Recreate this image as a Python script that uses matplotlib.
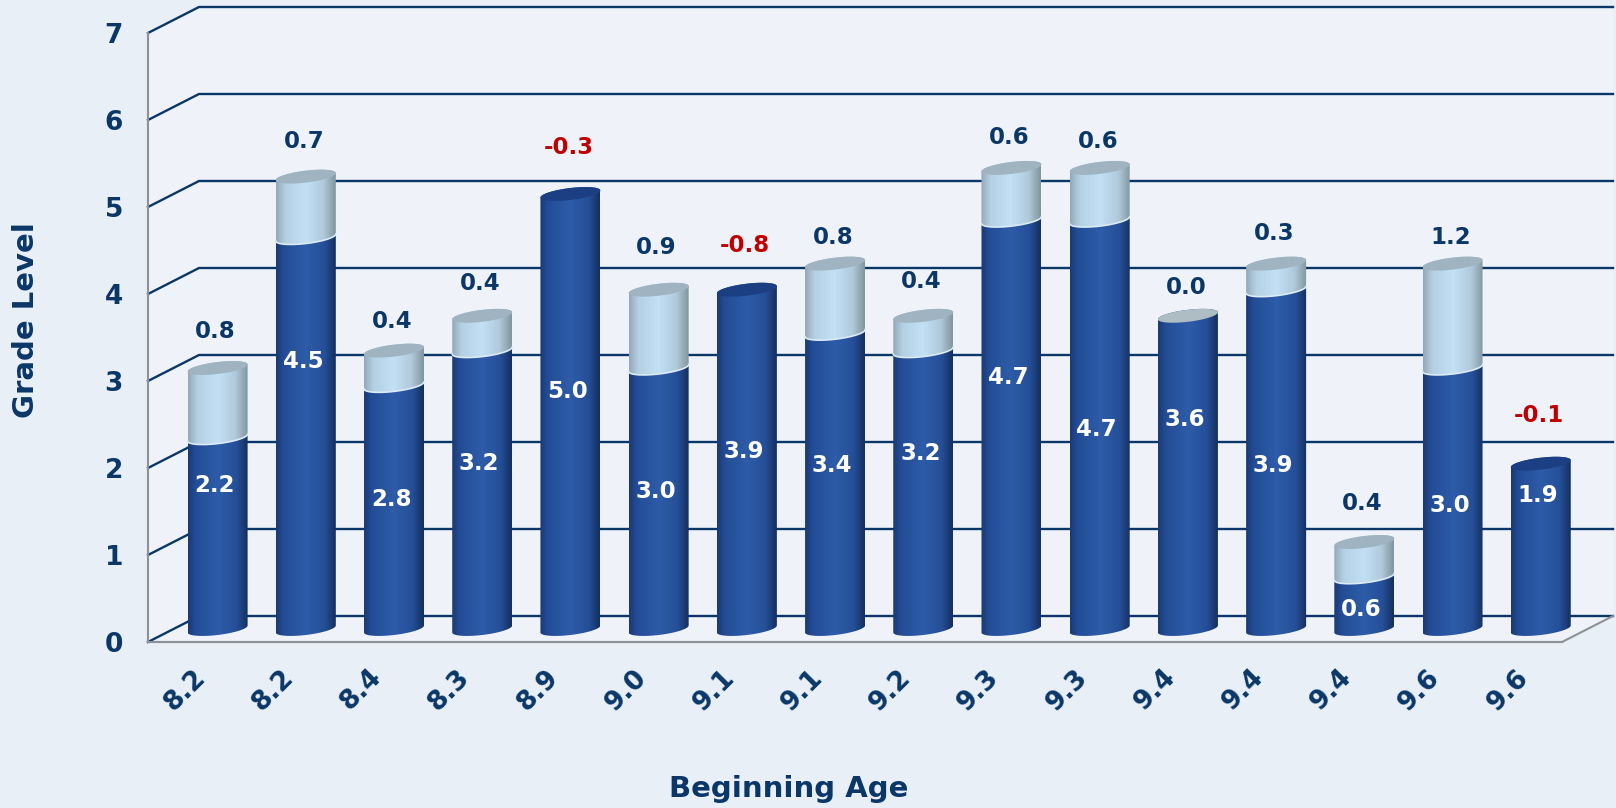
from __future__ import annotations

import matplotlib
matplotlib.use("Agg")
import matplotlib.pyplot as plt
import numpy as np
from matplotlib.colors import LinearSegmentedColormap
from matplotlib.patches import Polygon

AGES = ["8.2", "8.2", "8.4", "8.3", "8.9", "9.0", "9.1", "9.1", "9.2", "9.3", "9.3", "9.4", "9.4", "9.4", "9.6", "9.6"]
BEGIN_GRADE = [2.2, 4.5, 2.8, 3.2, 5.0, 3.0, 3.9, 3.4, 3.2, 4.7, 4.7, 3.6, 3.9, 0.6, 3.0, 1.9]
GAIN = [0.8, 0.7, 0.4, 0.4, -0.3, 0.9, -0.8, 0.8, 0.4, 0.6, 0.6, 0.0, 0.3, 0.4, 1.2, -0.1]
Y_TICKS = [0, 1, 2, 3, 4, 5, 6, 7]

# where the labels sit, in reference pixels from the top of the image
INNER_LABEL_PX = [485, 362, 500, 463, 391, 491, 451, 466, 454, 377, 429, 420, 466, 610, 505, 496]
TOP_LABEL_PX = [331, 142, 321, 283, 148, 248, 245, 237, 281, 138, 142, 288, 233, 503, 238, 415]

W, H = 1616, 808
LEFT, RIGHT, Y0, Y7 = 148, 1562, 642, 33
XMIN, XMAX = -0.5, 15.53
PX_X = (XMAX - XMIN) / (RIGHT - LEFT)
PX_Y = 7 / (Y0 - Y7)
DEPTH_X = 51 * PX_X
DEPTH_Y = 26 * PX_Y
BAR_HW = 30 * PX_X
ELL_A = 6 * PX_Y
ELL_B = 3.5 * PX_Y

NAVY = "#0a3768"
RED = "#c00000"
GREY = "#8c9198"
BG = "#e8eff7"
WALL = "#eff3f9"

dark_cmap = LinearSegmentedColormap.from_list(
    "dark", [(0, "#1b3a73"), (0.12, "#234c96"), (0.5, "#2e5ca8"), (0.82, "#254f98"), (1, "#15305f")]
)
light_cmap = LinearSegmentedColormap.from_list(
    "light", [(0, "#93a9b9"), (0.15, "#b5d0e3"), (0.5, "#c3e0f5"), (0.8, "#b0c9db"), (1, "#82969f")]
)


def arc(cx: float, cy: float, front: bool) -> np.ndarray:
    # half of a tilted ellipse, running right to left
    t = np.linspace(0, np.pi, 40)
    sign = -1 if front else 1
    return np.column_stack([cx + BAR_HW * np.cos(t), cy + ELL_B * np.cos(t) + sign * ELL_A * np.sin(t)])


def cylinder(ax, fig, cx: float, y_low: float, y_high: float, cmap, top_color: str | None, order: int) -> None:
    outline = np.vstack([arc(cx, y_high, False), arc(cx, y_low, True)[::-1]])
    clip = Polygon(outline, closed=True, transform=ax.transData)
    grad = np.linspace(0, 1, 64).reshape(1, -1)
    extent = [cx - BAR_HW, cx + BAR_HW, y_low - 2 * ELL_A - ELL_B, y_high + 2 * ELL_A + ELL_B]
    im = ax.imshow(grad, extent=extent, cmap=cmap, aspect="auto", interpolation="bilinear", zorder=order)
    im.set_clip_box(fig.bbox)
    im.set_clip_path(clip)
    if top_color is not None:
        top = np.vstack([arc(cx, y_high, False), arc(cx, y_high, True)[::-1]])
        ax.add_patch(Polygon(top, closed=True, facecolor=top_color, edgecolor="none", zorder=order + 1, clip_on=False))


def main() -> None:
    fig = plt.figure(figsize=(W / 100, H / 100), dpi=100, facecolor=BG)
    ax = fig.add_axes([LEFT / W, (H - Y0) / H, (RIGHT - LEFT) / W, (Y0 - Y7) / H])
    ax.patch.set_visible(False)

    wall = [
        (XMIN, 0), (XMIN, 7), (XMIN + DEPTH_X, 7 + DEPTH_Y), (XMAX + DEPTH_X, 7 + DEPTH_Y),
        (XMAX + DEPTH_X, DEPTH_Y), (XMAX, 0),
    ]
    ax.add_patch(Polygon(wall, closed=True, facecolor=WALL, edgecolor="none", zorder=0, clip_on=False))

    for v in Y_TICKS:
        ax.plot(
            [XMIN, XMIN + DEPTH_X, XMAX + DEPTH_X],
            [v, v + DEPTH_Y, v + DEPTH_Y],
            color=NAVY, lw=1.7, zorder=1, clip_on=False, solid_joinstyle="miter",
        )
    ax.plot([XMIN, XMAX, XMAX + DEPTH_X], [0, 0, DEPTH_Y], color=GREY, lw=1.5, zorder=2, clip_on=False)

    for i, (begin, gain) in enumerate(zip(BEGIN_GRADE, GAIN)):
        cx = i + DEPTH_X / 2
        base = DEPTH_Y / 2
        if gain > 0:
            cylinder(ax, fig, cx, base, base + begin, dark_cmap, None, 3)
            cylinder(ax, fig, cx, base + begin, base + begin + gain, light_cmap, "#9fb3c0", 5)
            seam = arc(cx, base + begin, True)
            ax.plot(seam[:, 0], seam[:, 1], color="#dcebf6", lw=1.2, zorder=7, clip_on=False)
        elif gain == 0:
            cylinder(ax, fig, cx, base, base + begin, dark_cmap, "#aebcc4", 3)
        else:
            cylinder(ax, fig, cx, base, base + begin, dark_cmap, "#1c3f84", 3)
        ax.text(cx - 3 * PX_X, (Y0 - INNER_LABEL_PX[i]) * PX_Y, f"{begin:.1f}", color="white", fontsize=16.5,
                fontweight="bold", ha="center", va="center", zorder=8)
        ax.text(cx - 2 * PX_X, (Y0 - TOP_LABEL_PX[i]) * PX_Y, f"{gain:.1f}", color=RED if gain < 0 else NAVY,
                fontsize=16.5, fontweight="bold", ha="center", va="center", zorder=8)

    ax.set_xlim(XMIN, XMAX)
    ax.set_ylim(0, 7)
    ax.set_yticks(Y_TICKS)
    ax.set_xticks(range(len(AGES)))
    ax.set_xticklabels(AGES, rotation=45, ha="right", va="top", rotation_mode="anchor")
    ax.tick_params(axis="both", length=0, labelcolor=NAVY, labelsize=19)
    ax.tick_params(axis="y", pad=18)
    ax.tick_params(axis="x", pad=16)
    for label in ax.get_xticklabels() + ax.get_yticklabels():
        label.set_fontweight("bold")
    for side in ("top", "right"):
        ax.spines[side].set_visible(False)
    for side in ("left", "bottom"):
        ax.spines[side].set_color(GREY)
        ax.spines[side].set_linewidth(1.5)

    fig.text(26 / W, 1 - 320 / H, "Grade Level", rotation=90, color=NAVY, fontsize=21, fontweight="bold",
             ha="center", va="center")
    fig.text(789 / W, 1 - 789 / H, "Beginning Age", color=NAVY, fontsize=21, fontweight="bold",
             ha="center", va="center")

    fig.savefig("out.png", dpi=100, facecolor=BG)


if __name__ == "__main__":
    main()
